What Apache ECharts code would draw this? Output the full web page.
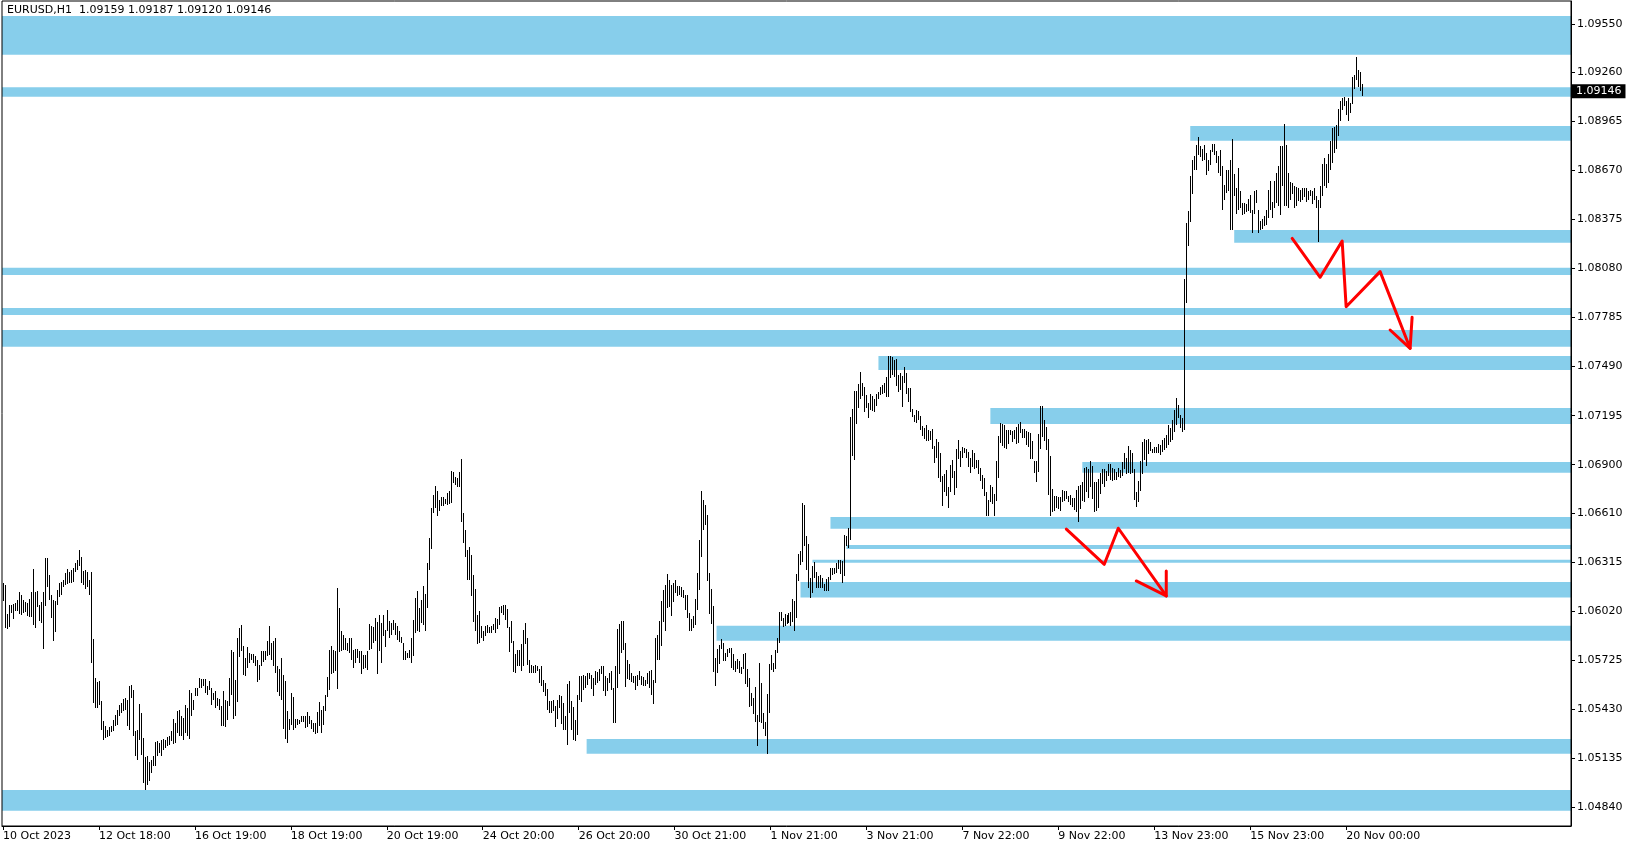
<!DOCTYPE html>
<html>
<head>
<meta charset="utf-8">
<script src="https://cdn.jsdelivr.net/npm/echarts@6/dist/echarts.min.js"></script>
<style>
html,body{margin:0;padding:0;background:#fff;}
#chart{width:1635px;height:850px;}
</style>
</head>
<body>
<div id="chart"></div>
<script>
// ---- Header ----
const symbolName = 'EURUSD,H1';
const lastBarOHLC = [1.09159, 1.09187, 1.09120, 1.09146];

// ---- X axis tick labels (one every 48 hourly bars) ----
const xTickBars = [0, 48, 96, 144, 192, 240, 288, 336, 384, 432, 480, 528, 576, 624, 672];
const xTickLabels = ['10 Oct 2023', '12 Oct 18:00', '16 Oct 19:00', '18 Oct 19:00', '20 Oct 19:00',
  '24 Oct 20:00', '26 Oct 20:00', '30 Oct 21:00', '1 Nov 21:00', '3 Nov 21:00', '7 Nov 22:00',
  '9 Nov 22:00', '13 Nov 23:00', '15 Nov 23:00', '20 Nov 00:00'];
const totalSlots = 785; // bars + empty right margin

// ---- Y axis tick labels ----
const yTicks = [1.04840, 1.05135, 1.05430, 1.05725, 1.06020, 1.06315, 1.06610, 1.06900,
  1.07195, 1.07490, 1.07785, 1.08080, 1.08375, 1.08670, 1.08965, 1.09260, 1.09550];
const yMin = 1.047276, yMax = 1.096883;

// ---- Hourly bar highs ----
const highs = [
1.06187,1.06177,1.06003,1.06057,1.06057,1.06063,1.06067,1.06087,1.06133,1.06117,
1.06087,1.06077,1.06071,1.06091,1.06133,1.06271,1.06137,1.06141,1.06057,1.06077,
1.06137,1.06337,1.06337,1.06237,1.06117,1.06087,1.06083,1.06147,1.06191,1.06197,
1.06207,1.06247,1.06271,1.06257,1.06267,1.06277,1.06307,1.06327,1.06387,1.06347,
1.06263,1.06267,1.06255,1.06207,1.06255,1.05851,1.05617,1.05591,1.05601,1.05481,
1.05357,1.05331,1.05307,1.05321,1.05331,1.05367,1.05393,1.05427,1.05457,1.05467,
1.05491,1.05497,1.05483,1.05571,1.05577,1.05543,1.05297,1.05303,1.05463,1.05407,
1.05257,1.05143,1.05147,1.05111,1.05127,1.05147,1.05231,1.05237,1.05227,1.05247,
1.05251,1.05243,1.05261,1.05267,1.05297,1.05373,1.05347,1.05417,1.05423,1.05391,
1.05379,1.05453,1.05437,1.05547,1.05527,1.05487,1.05557,1.05557,1.05617,1.05611,
1.05611,1.05611,1.05571,1.05597,1.05557,1.05527,1.05537,1.05497,1.05491,1.05447,
1.05537,1.05487,1.05479,1.05617,
1.05788,1.05772,1.05608,1.05858,1.05918,1.05938,1.05808,1.05738,1.05804,1.05768,
1.05764,1.05764,1.05748,1.05728,1.05698,1.05782,1.05778,1.05782,1.05838,1.05932,
1.05828,1.05842,1.05858,1.05692,1.05674,1.05738,1.05638,1.05598,1.05418,1.05368,
1.05528,1.05504,1.05372,1.05368,1.05364,1.05392,1.05392,1.05392,1.05412,1.05388,
1.05364,1.05348,1.05344,1.05412,1.05474,1.05428,1.05448,1.05514,1.05624,1.05788,
1.05808,1.05788,1.05778,1.06158,1.06038,1.05898,1.05874,1.05858,1.05828,1.05858,
1.05858,1.05788,1.05794,1.05792,1.05778,1.05782,1.05758,1.05758,1.05778,1.05944,
1.05928,1.05922,1.05978,1.05952,1.05998,1.05948,1.05998,1.05908,1.06028,1.05958,
1.05948,1.05968,1.05948,1.05932,1.05898,1.05864,1.05828,1.05778,1.05768,1.05788,
1.05858,1.05968,1.06098,1.06138,1.06038,1.06088,1.06172,1.06124,1.06308,1.06458,
1.06638,1.06718,1.06772,1.06744,1.06688,1.06708,1.06704,1.06692,1.06732,1.06744,
1.06864,1.06858,1.06824,1.06818,1.06858,1.06932,1.06608,1.06508,1.06388,1.06408,
1.06358,1.06238,1.06154,1.05994,1.06018,1.05932,1.05902,1.05932,1.05938,1.05924,
1.05932,1.05944,1.05978,1.05974,1.06042,1.06048,1.06058,1.06058,1.06034,1.05922,
1.05962,1.05842,1.05764,1.05784,1.05788,1.05824,1.05908,1.05948,1.05858,1.05728,
1.05698,1.05688,1.05694,1.05688,1.05672,1.05688,1.05608,1.05588,1.05554,1.05478,
1.05478,1.05488,1.05448,1.05488,1.05518,1.05512,1.05468,1.05388,1.05584,1.05598,
1.05478,1.05444,1.05364,1.05518,1.05632,1.05628,1.05638,1.05632,1.05648,1.05648,
1.05638,1.05618,1.05658,1.05652,1.05674,1.05692,1.05692,1.05628,1.05618,1.05648,
1.05662,1.05558,1.05688,1.05912,1.05942,1.05962,1.05958,1.05828,1.05728,1.05704,
1.05648,1.05632,1.05628,1.05638,1.05658,1.05632,1.05624,1.05608,1.05648,1.05658,
1.05668,1.05608,1.05858,1.05878,1.05958,1.06078,1.06144,1.06178,1.06244,1.06208,
1.06178,1.06188,1.06208,1.06168,1.06168,1.06164,1.06144,1.06118,1.06118,1.06008,
1.05970,1.05990,1.06090,1.06250,1.06450,1.06744,1.06690,1.06660,1.06600,1.06250,
1.06150,1.06050,1.05740,1.05794,1.05814,1.05854,1.05830,1.05766,1.05794,1.05800,
1.05800,1.05760,1.05720,1.05734,1.05720,1.05686,1.05760,1.05770,1.05674,1.05620,
1.05530,1.05500,1.05566,1.05394,1.05706,1.05586,1.05410,1.05350,1.05520,1.05700,
1.05754,1.05706,1.05784,1.05860,1.06016,1.06016,1.05980,1.06000,1.05994,1.06010,
1.06016,1.06094,1.06080,1.06240,1.06366,1.06384,1.06670,1.06660,1.06474,1.06426,
1.06220,1.06290,1.06314,1.06256,1.06230,1.06234,1.06220,1.06180,1.06210,1.06226,
1.06280,1.06280,1.06280,1.06310,1.06330,1.06330,1.06320,1.06480,1.06474,1.06520,
1.07186,1.07236,1.07344,1.07344,1.07384,1.07456,1.07394,1.07370,1.07320,1.07274,
1.07326,1.07314,1.07294,1.07326,1.07340,1.07366,1.07380,1.07394,1.07430,1.07554,
1.07554,1.07546,1.07530,1.07536,1.07440,1.07454,1.07434,1.07486,1.07454,1.07364,
1.07360,1.07234,1.07200,1.07230,1.07220,
1.07193,1.07133,1.07123,1.07137,1.07107,1.07103,1.07113,1.07013,1.07057,1.07037,
1.06973,1.06833,1.06843,1.06869,1.06767,1.06897,1.06929,1.06863,1.06997,1.07047,
1.06983,1.07009,1.07003,1.06993,1.06977,1.06943,1.06989,1.06973,1.06929,1.06929,
1.06883,1.06837,1.06823,1.06737,1.06689,1.06777,1.06769,1.06723,1.06923,1.07073,
1.07153,1.07143,1.07137,1.07109,1.07109,1.07109,1.07103,1.07109,1.07127,1.07143,
1.07157,1.07113,1.07113,1.07103,1.07097,1.07093,1.07043,1.06923,1.06923,1.07083,
1.07253,1.07253,1.07169,1.07127,1.07053,1.06953,1.06753,1.06709,1.06709,1.06703,
1.06703,1.06749,1.06743,1.06743,1.06713,1.06717,1.06697,1.06697,1.06749,1.06773,
1.06777,1.06797,1.06883,1.06889,1.06877,1.06923,1.06893,1.06797,1.06797,1.06817,
1.06849,1.06873,1.06873,1.06863,1.06903,1.06903,1.06883,1.06873,1.06857,1.06883,
1.06869,1.06917,1.06969,1.06943,1.07013,1.06989,1.06973,1.06873,1.06733,1.06803,
1.06923,1.07037,1.07057,1.07049,1.07053,1.07037,1.06997,1.07009,1.07009,1.07023,
1.07019,1.07049,1.07061,1.07079,1.07139,1.07121,1.07169,1.07229,1.07301,1.07259,1.07199,1.07181,
1.08014,1.08354,1.08424,1.08638,1.08730,1.08758,1.08824,1.08870,1.08818,1.08798,
1.08824,1.08774,1.08734,1.08794,1.08830,1.08830,1.08784,1.08758,1.08794,1.08694,
1.08584,1.08674,1.08670,1.08734,1.08858,1.08650,1.08564,1.08684,1.08544,1.08474,
1.08474,1.08470,1.08498,1.08524,1.08430,1.08544,1.08554,1.08430,1.08364,1.08378,
1.08394,1.08434,1.08554,1.08604,1.08478,1.08604,1.08654,1.08698,1.08818,1.08818,
1.08950,1.08824,1.08654,1.08598,1.08594,1.08578,1.08570,1.08564,1.08554,1.08564,
1.08564,1.08564,1.08544,1.08550,1.08544,1.08564,1.08514,1.08490,1.08578,1.08710,
1.08744,1.08710,1.08770,1.08844,1.08924,1.08930,1.08944,1.09038,1.09090,1.09104,
1.09110,1.09090,1.09104,1.09074,1.09230,1.09244,1.09354,1.09274,1.09264,1.09187
];

// ---- Hourly bar lows ----
const lows = [
1.06083,1.05917,1.05913,1.05927,1.06011,1.05973,1.06023,1.06023,1.06003,1.05997,
1.06011,1.06017,1.05991,1.05983,1.05987,1.05937,1.05917,1.06047,1.05961,1.05951,
1.05791,1.06051,1.06167,1.06087,1.05977,1.05837,1.05897,1.06057,1.06107,1.06117,
1.06167,1.06177,1.06183,1.06187,1.06187,1.06197,1.06253,1.06267,1.06291,1.06187,
1.06177,1.06151,1.06167,1.06117,1.05707,1.05467,1.05437,1.05437,1.05453,1.05307,
1.05247,1.05257,1.05263,1.05267,1.05293,1.05297,1.05331,1.05337,1.05387,1.05407,
1.05417,1.05427,1.05327,1.05303,1.05497,1.05267,1.05147,1.05127,1.05247,1.05157,
1.04987,1.04947,1.04977,1.04997,1.05047,1.05087,1.05087,1.05147,1.05167,1.05147,
1.05187,1.05197,1.05207,1.05217,1.05237,1.05223,1.05227,1.05287,1.05267,1.05267,
1.05247,1.05287,1.05267,1.05251,1.05387,1.05427,1.05507,1.05507,1.05557,1.05557,
1.05567,1.05527,1.05517,1.05547,1.05457,1.05487,1.05437,1.05447,1.05427,1.05327,
1.05327,1.05323,1.05367,1.05447,
1.05518,1.05372,1.05388,1.05472,1.05744,1.05778,1.05638,1.05628,1.05678,1.05708,
1.05728,1.05708,1.05692,1.05592,1.05604,1.05688,1.05712,1.05728,1.05748,1.05758,
1.05728,1.05692,1.05648,1.05532,1.05508,1.05484,1.05308,1.05252,1.05224,1.05304,
1.05332,1.05302,1.05318,1.05332,1.05338,1.05352,1.05352,1.05318,1.05322,1.05338,
1.05308,1.05292,1.05278,1.05288,1.05328,1.05288,1.05336,1.05418,1.05504,1.05548,
1.05644,1.05648,1.05658,1.05552,1.05772,1.05778,1.05788,1.05788,1.05782,1.05768,
1.05728,1.05676,1.05708,1.05738,1.05708,1.05644,1.05672,1.05678,1.05668,1.05788,
1.05792,1.05828,1.05838,1.05644,1.05778,1.05708,1.05868,1.05804,1.05898,1.05858,
1.05878,1.05908,1.05878,1.05848,1.05832,1.05828,1.05724,1.05728,1.05738,1.05738,
1.05708,1.05752,1.05888,1.05898,1.05892,1.05948,1.05938,1.05898,1.06038,1.06268,
1.06394,1.06608,1.06638,1.06592,1.06624,1.06652,1.06652,1.06664,1.06658,1.06664,
1.06668,1.06788,1.06778,1.06768,1.06764,1.06558,1.06432,1.06348,1.06208,1.06204,
1.06108,1.05952,1.05898,1.05822,1.05828,1.05858,1.05838,1.05872,1.05888,1.05888,
1.05888,1.05908,1.05888,1.05912,1.05934,1.06008,1.05998,1.05964,1.05918,1.05772,
1.05828,1.05654,1.05648,1.05688,1.05688,1.05658,1.05688,1.05822,1.05694,1.05648,
1.05648,1.05648,1.05648,1.05658,1.05588,1.05568,1.05532,1.05508,1.05424,1.05408,
1.05408,1.05418,1.05324,1.05372,1.05438,1.05338,1.05302,1.05304,1.05216,1.05408,
1.05304,1.05244,1.05238,1.05274,1.05488,1.05472,1.05548,1.05558,1.05578,1.05612,
1.05552,1.05512,1.05578,1.05588,1.05598,1.05644,1.05538,1.05508,1.05538,1.05588,
1.05548,1.05344,1.05344,1.05558,1.05644,1.05768,1.05788,1.05564,1.05612,1.05608,
1.05592,1.05588,1.05548,1.05572,1.05608,1.05578,1.05572,1.05568,1.05582,1.05558,
1.05518,1.05462,1.05588,1.05724,1.05728,1.05808,1.05954,1.05898,1.06038,1.06044,
1.05988,1.06072,1.06128,1.06112,1.06118,1.06104,1.06098,1.06028,1.05978,1.05898,
1.05900,1.05920,1.05936,1.06026,1.06146,1.06344,1.06510,1.06540,1.06200,1.06000,
1.05940,1.05654,1.05570,1.05650,1.05700,1.05790,1.05720,1.05720,1.05746,1.05770,
1.05680,1.05666,1.05654,1.05674,1.05646,1.05640,1.05670,1.05580,1.05566,1.05444,
1.05450,1.05400,1.05350,1.05210,1.05350,1.05346,1.05310,1.05270,1.05160,1.05410,
1.05664,1.05654,1.05670,1.05770,1.05826,1.05960,1.05926,1.05930,1.05940,1.05946,
1.05930,1.05954,1.05900,1.05976,1.06200,1.06294,1.06314,1.06410,1.06266,1.06160,
1.06100,1.06130,1.06220,1.06160,1.06160,1.06160,1.06160,1.06140,1.06140,1.06140,
1.06206,1.06234,1.06240,1.06250,1.06270,1.06240,1.06190,1.06230,1.06410,1.06400,
1.06446,1.06950,1.06926,1.07144,1.07244,1.07294,1.07314,1.07214,1.07240,1.07180,
1.07226,1.07220,1.07214,1.07254,1.07294,1.07320,1.07326,1.07334,1.07310,1.07306,
1.07420,1.07440,1.07430,1.07374,1.07340,1.07350,1.07250,1.07390,1.07326,1.07280,
1.07214,1.07186,1.07154,1.07150,1.07170,
1.07109,1.07073,1.07053,1.07043,1.07043,1.07049,1.06993,1.06913,1.06943,1.06823,
1.06797,1.06649,1.06733,1.06713,1.06637,1.06733,1.06823,1.06717,1.06757,1.06937,
1.06889,1.06943,1.06969,1.06943,1.06889,1.06853,1.06889,1.06873,1.06883,1.06843,
1.06803,1.06753,1.06709,1.06593,1.06589,1.06677,1.06663,1.06593,1.06683,1.06823,
1.07033,1.07013,1.07003,1.06997,1.07023,1.07077,1.07037,1.07053,1.07023,1.07029,
1.07089,1.07063,1.07063,1.07019,1.07009,1.06933,1.06933,1.06849,1.06797,1.06857,
1.06997,1.07067,1.07043,1.06989,1.06719,1.06593,1.06617,1.06623,1.06637,1.06633,
1.06623,1.06677,1.06683,1.06693,1.06673,1.06657,1.06643,1.06629,1.06617,1.06557,
1.06633,1.06683,1.06677,1.06733,1.06697,1.06769,1.06693,1.06617,1.06623,1.06637,
1.06723,1.06783,1.06769,1.06803,1.06833,1.06809,1.06803,1.06809,1.06809,1.06829,
1.06823,1.06833,1.06877,1.06843,1.06853,1.06843,1.06849,1.06689,1.06643,1.06673,
1.06743,1.06843,1.06929,1.06893,1.06963,1.06983,1.06969,1.06973,1.06973,1.06973,
1.06958,1.06977,1.06989,1.07001,1.07019,1.07037,1.07049,1.07097,1.07139,1.07181,1.07121,1.07097,
1.07110,1.07874,1.08218,1.08358,1.08530,1.08670,1.08670,1.08764,1.08750,1.08724,
1.08734,1.08644,1.08664,1.08704,1.08778,1.08764,1.08714,1.08654,1.08638,1.08430,
1.08490,1.08534,1.08544,1.08314,1.08314,1.08518,1.08410,1.08430,1.08444,1.08404,
1.08410,1.08418,1.08424,1.08414,1.08294,1.08410,1.08474,1.08294,1.08314,1.08318,
1.08338,1.08344,1.08384,1.08434,1.08384,1.08444,1.08474,1.08454,1.08404,1.08574,
1.08454,1.08454,1.08444,1.08494,1.08530,1.08444,1.08454,1.08484,1.08478,1.08494,
1.08510,1.08478,1.08494,1.08514,1.08470,1.08494,1.08444,1.08238,1.08444,1.08518,
1.08574,1.08564,1.08594,1.08674,1.08714,1.08774,1.08798,1.08874,1.08964,1.09034,
1.09054,1.09004,1.08964,1.09014,1.09070,1.09158,1.09214,1.09174,1.09150,1.09120
];

// ---- Horizontal zones (price low, price high, first bar or null = whole width) ----
const zoneLow   = [1.09365, 1.09113, 1.08848, 1.08235, 1.08041, 1.07800, 1.07610, 1.07470, 1.07145, 1.06852, 1.06515, 1.06393, 1.06310, 1.06101, 1.05842, 1.05162, 1.04820];
const zoneHigh  = [1.09598, 1.09169, 1.08937, 1.08311, 1.08085, 1.07842, 1.07710, 1.07554, 1.07241, 1.06916, 1.06586, 1.06417, 1.06328, 1.06195, 1.05931, 1.05251, 1.04944];
const zoneStart = [null, null, 594, 616, null, null, null, 438, 494, 540, 414, 422, 405, 399, 357, 292, null];

// ---- Red arrows (bar index, price) ----
const arrow1Path = [[532, 1.06513], [551, 1.06301], [558, 1.06518], [582, 1.06111]];
const arrow1Head = [[567, 1.06201], [582, 1.06111], [582, 1.06261]];
const arrow2Path = [[645, 1.08261], [659, 1.08027], [670, 1.08245], [672, 1.07850], [689, 1.08061], [704, 1.07600]];
const arrow2Head = [[694, 1.07710], [704, 1.07600], [705, 1.07786]];

// ---- Build chart ----
const FONT = 'DejaVu Sans';
const categories = Array.from({ length: totalSlots }, (_, i) => String(i));
const barData = highs.map((h, i) => [i, h, lows[i]]);

const areaData = zoneLow.map((lo, k) => {
  const a = { yAxis: zoneLow[k] };
  if (zoneStart[k] !== null) a.xAxis = zoneStart[k];
  return [a, { yAxis: zoneHigh[k] }];
});

const isTick = (idx) => xTickBars.indexOf(idx) >= 0;

function arrowSeries(data) {
  return {
    type: 'line', data: data, z: 5, silent: true, showSymbol: false, symbol: 'none',
    lineStyle: { color: '#ff0000', width: 3, join: 'round', cap: 'round' },
    animation: false
  };
}

const chart = echarts.init(document.getElementById('chart'), null, { renderer: 'canvas' });
chart.setOption({
  animation: false,
  backgroundColor: '#ffffff',
  title: {
    text: symbolName + '  ' + lastBarOHLC.map(v => v.toFixed(5)).join(' '),
    left: 7, top: 5, padding: 0, z: 20,
    textStyle: { fontFamily: FONT, fontSize: 11, fontWeight: 'normal', color: '#000' }
  },
  grid: {
    show: true, left: 2, top: 1, right: 64, bottom: 24, z: 10,
    borderColor: '#000', borderWidth: 1, backgroundColor: 'transparent'
  },
  xAxis: {
    type: 'category', data: categories, boundaryGap: true,
    axisLine: { show: true, lineStyle: { color: '#000', width: 1 } },
    axisTick: { show: true, interval: (idx) => isTick(idx), alignWithLabel: true, length: 4, lineStyle: { color: '#000' } },
    axisLabel: {
      show: true, interval: (idx) => isTick(idx), align: 'left', margin: 5,
      fontFamily: FONT, fontSize: 11, color: '#000',
      formatter: (v) => { const k = xTickBars.indexOf(Number(v)); return k >= 0 ? xTickLabels[k] : ''; }
    },
    splitLine: { show: false }
  },
  yAxis: {
    type: 'value', position: 'right', min: yMin, max: yMax, scale: true,
    axisLine: { show: true, lineStyle: { color: '#000', width: 1 } },
    axisTick: { show: true, length: 4, customValues: yTicks, lineStyle: { color: '#000' } },
    axisLabel: {
      show: true, customValues: yTicks, margin: 6, fontFamily: FONT, fontSize: 11, color: '#000',
      formatter: (v) => v.toFixed(5)
    },
    splitLine: { show: false }
  },
  series: [
    {
      name: 'zones', type: 'line', data: [], z: 1, silent: true,
      markArea: {
        silent: true, precision: 5,
        itemStyle: { color: '#87ceeb', opacity: 1, borderWidth: 0 },
        label: { show: false },
        emphasis: { disabled: true },
        data: areaData
      }
    },
    {
      name: 'EURUSD', type: 'custom', z: 3, silent: true, clip: true,
      data: barData,
      encode: { x: 0, y: [1, 2] },
      renderItem: (params, api) => {
        const i = api.value(0);
        const top = api.coord([i, api.value(1)]);
        const bot = api.coord([i, api.value(2)]);
        const x = Math.round(top[0]);
        const y1 = Math.round(top[1]);
        const y2 = Math.round(bot[1]);
        return {
          type: 'rect',
          shape: { x: x, y: y1, width: 1, height: Math.max(1, y2 - y1) },
          style: { fill: '#000' }
        };
      }
    },
    arrowSeries(arrow1Path),
    arrowSeries(arrow1Head),
    arrowSeries(arrow2Path),
    Object.assign(arrowSeries(arrow2Head), {
      clip: false,
      markLine: {
        silent: true, symbol: ['none', 'none'], precision: 5,
        lineStyle: { color: 'rgba(0,0,0,0)', width: 1, type: 'solid' },
        emphasis: { disabled: true },
        label: {
          show: true, position: 'end', distance: 1,
          formatter: () => lastBarOHLC[3].toFixed(5),
          backgroundColor: '#000', color: '#fff', padding: [2, 4, 1, 4],
          fontFamily: FONT, fontSize: 11, opacity: 1
        },
        data: [{ yAxis: lastBarOHLC[3] }]
      }
    })
  ]
});
</script>
</body>
</html>
